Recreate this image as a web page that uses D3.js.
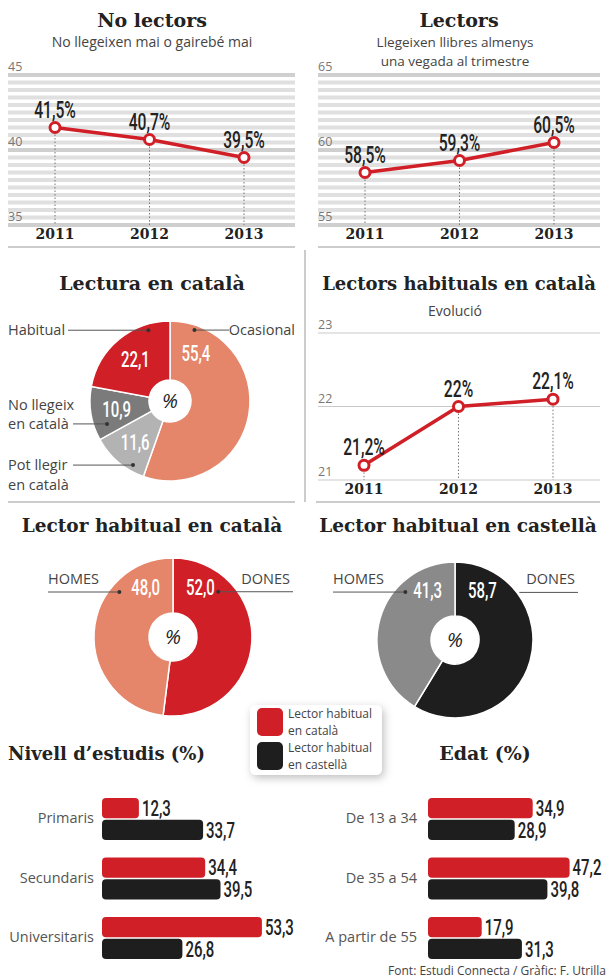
<!DOCTYPE html>
<html>
<head>
<meta charset="utf-8">
<script src="https://cdn.jsdelivr.net/npm/d3@7"></script>
<style>
  body { margin: 0; background: #fff; }
  svg { display: block; }
</style>
</head>
<body>
<svg id="chart" width="607" height="978"></svg>
<script>

// ---- data
var years = ['2011', '2012', '2013'];
var noLectors = [41.5, 40.7, 39.5];
var lectors = [58.5, 59.3, 60.5];
var habitualsCat = [21.2, 22.0, 22.1];

var lecturaCat = ['Ocasional', 'Pot llegir', 'No llegeix', 'Habitual'];
var lecturaVal = [55.4, 11.6, 10.9, 22.1];

var generes = ['DONES', 'HOMES'];
var habitualCatGenere = [52.0, 48.0];
var habitualCasGenere = [58.7, 41.3];

var series = ['Lector habitual en català', 'Lector habitual en castellà'];
var estudis = ['Primaris', 'Secundaris', 'Universitaris'];
var estudisCat = [12.3, 34.4, 53.3];
var estudisCas = [33.7, 39.5, 26.8];
var edats = ['De 13 a 34', 'De 35 a 54', 'A partir de 55'];
var edatCat = [34.9, 47.2, 17.9];
var edatCas = [28.9, 39.8, 31.3];

var RED = '#d01f27', SALMON = '#e5866a', BLACK = '#1e1e1e';
var SERIF = '"DejaVu Serif", serif', SANS = '"Open Sans", sans-serif', COND = 'Roboto, sans-serif';

var svg = d3.select('#chart');

var defs = svg.append('defs');
var sh = defs.append('filter').attr('id', 'shadow')
  .attr('x', '-20%').attr('y', '-20%').attr('width', '150%').attr('height', '160%');
sh.append('feDropShadow').attr('dx', 2).attr('dy', 3).attr('stdDeviation', 4)
  .attr('flood-color', '#000').attr('flood-opacity', 0.25);

function fmtPct(v) { return String(Math.round(v * 10) / 10).replace('.', ',') + '%'; }
function fmt1(v) { return v.toFixed(1).replace('.', ','); }

// condensed figures: a regular face squeezed horizontally
function condText(g, x, y, txt, anchor, size, fill) {
  return g.append('text')
    .attr('transform', 'translate(' + x + ',' + y + ') scale(0.68,1)')
    .attr('text-anchor', anchor)
    .attr('dy', '0.35em')
    .style('font-family', COND).style('font-weight', 500)
    .style('font-size', size + 'px').style('fill', fill)
    .text(txt);
}

function title(x, y, txt, anchor, size) {
  svg.append('text').attr('x', x).attr('y', y).attr('text-anchor', anchor || 'middle')
    .style('font-family', SERIF).style('font-weight', 'bold')
    .style('font-size', (size || 19) + 'px').style('fill', '#222')
    .text(txt);
}

function subtitle(x, y, txt, size) {
  svg.append('text').attr('x', x).attr('y', y).attr('text-anchor', 'middle')
    .style('font-family', SANS).style('font-size', (size || 14) + 'px').style('fill', '#444')
    .text(txt);
}

// ================================================== line charts
function lineChart(o) {
  var g = svg.append('g');
  var x = d3.scalePoint().domain(years).range(o.xr);
  var y = d3.scaleLinear().domain(o.domain).range(o.yr);

  if (o.striped) {
    g.selectAll('.stripe').data(d3.range(o.domain[0], o.domain[1] + 0.01, 0.5)).enter()
      .append('line')
      .attr('x1', o.gx[0]).attr('x2', o.gx[1])
      .attr('y1', function (d) { return y(d); }).attr('y2', function (d) { return y(d); })
      .attr('stroke', function (d) { return d % 5 === 0 ? '#cfcfcf' : '#e0e0e0'; })
      .attr('stroke-width', 3.8);
  } else {
    g.selectAll('.grid').data(o.ticks).enter().append('line')
      .attr('x1', o.gx[0]).attr('x2', o.gx[1])
      .attr('y1', function (d) { return y(d); }).attr('y2', function (d) { return y(d); })
      .attr('stroke', '#c9c9c9').attr('stroke-width', 1);
  }

  g.selectAll('.tick').data(o.ticks).enter().append('text')
    .attr('x', o.gx[0]).attr('y', function (d) { return y(d) - 4; })
    .style('font-family', SANS).style('font-size', '12.5px').style('fill', '#777')
    .text(function (d) { return d; });

  var pts = years.map(function (yr, i) { return { yr: yr, v: o.values[i] }; });

  g.selectAll('.drop').data(pts).enter().append('line')
    .attr('x1', function (d) { return x(d.yr); }).attr('x2', function (d) { return x(d.yr); })
    .attr('y1', function (d) { return y(d.v); }).attr('y2', y(o.domain[0]))
    .attr('stroke', '#777').attr('stroke-width', 1).attr('stroke-dasharray', '1.5,2');

  g.append('path').datum(pts)
    .attr('d', d3.line().x(function (d) { return x(d.yr); }).y(function (d) { return y(d.v); }))
    .attr('fill', 'none').attr('stroke', RED).attr('stroke-width', 3.5);

  g.selectAll('.pt').data(pts).enter().append('circle')
    .attr('cx', function (d) { return x(d.yr); }).attr('cy', function (d) { return y(d.v); })
    .attr('r', 5).attr('fill', '#fff').attr('stroke', RED).attr('stroke-width', 3);

  pts.forEach(function (d) {
    condText(g, x(d.yr), y(d.v) - 18, fmtPct(d.v), 'middle', 23, '#222');
  });

  g.selectAll('.yr').data(years).enter().append('text')
    .attr('x', function (d) { return x(d); }).attr('y', o.yearY)
    .attr('text-anchor', 'middle')
    .style('font-family', SERIF).style('font-weight', 'bold').style('font-size', '14px').style('fill', '#222')
    .text(function (d) { return d; });
}

title(152, 27, 'No lectors');
subtitle(152, 47, 'No llegeixen mai o gairebé mai');
lineChart({ xr: [55, 244], gx: [8, 295], domain: [35, 45], yr: [225, 75], ticks: [35, 40, 45],
  values: noLectors, striped: true, yearY: 239 });

title(459, 27, 'Lectors');
subtitle(455, 47, 'Llegeixen llibres almenys', 13.5);
subtitle(455, 66, 'una vegada al trimestre', 13.5);
lineChart({ xr: [365, 554], gx: [318, 600], domain: [55, 65], yr: [225, 75], ticks: [55, 60, 65],
  values: lectors, striped: true, yearY: 239 });

title(459, 290, 'Lectors habituals en català', 'middle', 18);
subtitle(455, 316, 'Evolució');
lineChart({ xr: [364, 553], gx: [318, 600], domain: [21, 23], yr: [480, 333], ticks: [21, 22, 23],
  values: habitualsCat, striped: false, yearY: 494 });

// separators
svg.append('line').attr('x1', 8).attr('x2', 295).attr('y1', 247).attr('y2', 247).attr('stroke', '#999');
svg.append('line').attr('x1', 318).attr('x2', 600).attr('y1', 247).attr('y2', 247).attr('stroke', '#999');
svg.append('line').attr('x1', 305).attr('x2', 305).attr('y1', 250).attr('y2', 502).attr('stroke', '#999');
svg.append('line').attr('x1', 8).attr('x2', 295).attr('y1', 502).attr('y2', 502).attr('stroke', '#999');
svg.append('line').attr('x1', 316).attr('x2', 600).attr('y1', 502).attr('y2', 502).attr('stroke', '#999');

// ================================================== donuts
function polar(a, r) { return [Math.sin(a) * r, -Math.cos(a) * r]; }

function donut(o) {
  var g = svg.append('g').attr('transform', 'translate(' + o.cx + ',' + o.cy + ')');
  var data = o.names.map(function (n, i) { return { name: n, v: o.values[i], color: o.colors[i] }; });
  var arcs = d3.pie().sort(null).value(function (d) { return d.v; })(data);
  var arc = d3.arc().innerRadius(o.r0).outerRadius(o.r1);

  g.selectAll('path').data(arcs).enter().append('path')
    .attr('d', arc).attr('fill', function (d) { return d.data.color; })
    .attr('stroke', '#fff').attr('stroke-width', 1.5);

  g.append('text').attr('text-anchor', 'middle').attr('dy', '0.35em')
    .style('font-family', SANS).style('font-style', 'italic').style('font-size', '20px').style('fill', '#222')
    .text('%');

  arcs.forEach(function (d) {
    var span = d.endAngle - d.startAngle, a;
    if (span > Math.PI / 2) {
      a = d.startAngle === 0 ? d.startAngle + 0.5 : d.endAngle - 0.5;
    } else {
      a = (d.startAngle + d.endAngle) / 2;
    }
    var p = polar(a, o.labelR);
    condText(g, p[0], p[1], fmt1(d.data.v), 'middle', 22, '#fff');
  });
  return arcs;
}

function callout(cx, cy, angle, r, lineX, labelX, labelYs, anchor, lines, dot) {
  var p = polar(angle, r);
  var dx = cx + p[0], dy = cy + p[1];
  svg.append('line').attr('x1', lineX).attr('x2', dx).attr('y1', dy).attr('y2', dy)
    .attr('stroke', '#555').attr('stroke-width', 1);
  if (dot !== false) svg.append('circle').attr('cx', dx).attr('cy', dy).attr('r', 2).attr('fill', '#333');
  lines.forEach(function (t, i) {
    svg.append('text').attr('x', labelX).attr('y', labelYs[i]).attr('text-anchor', anchor)
      .style('font-family', SANS).style('font-size', '14.5px').style('fill', '#444').text(t);
  });
}

title(152, 290, 'Lectura en català', 'middle', 19);
donut({ cx: 170, cy: 401, r0: 21, r1: 80, labelR: 54,
  names: lecturaCat, values: lecturaVal, colors: [SALMON, '#b3b3b3', '#7b7b7b', RED] });

var DEG = Math.PI / 180;
callout(170, 401, 343 * DEG, 74, 68, 8, [335], 'start', ['Habitual']);
callout(170, 401, 19 * DEG, 75, 229, 295, [335], 'end', ['Ocasional']);
callout(170, 401, 250 * DEG, 67, 73, 8, [410, 429], 'start', ['No llegeix', 'en català']);
callout(170, 401, 210 * DEG, 74, 73, 8, [470, 490], 'start', ['Pot llegir', 'en català']);

title(152, 532, 'Lector habitual en català', 'middle', 18.5);
donut({ cx: 173, cy: 637, r0: 24, r1: 79, labelR: 57,
  names: generes, values: habitualCatGenere, colors: [RED, SALMON] });
callout(173, 637, 310 * DEG, 70, 48, 48, [584], 'start', ['HOMES']);
callout(173, 637, 45 * DEG, 64, 293, 290, [584], 'end', ['DONES']);

title(458, 532, 'Lector habitual en castellà', 'middle', 18.5);
donut({ cx: 455, cy: 640, r0: 24, r1: 78, labelR: 57,
  names: generes, values: habitualCasGenere, colors: [BLACK, '#8a8a8a'] });
callout(455, 640, 314 * DEG, 69, 333, 333, [584], 'start', ['HOMES']);
callout(455, 640, 53.5 * DEG, 80, 578, 575, [584], 'end', ['DONES'], false);

// ================================================== legend
var lg = svg.append('g').attr('transform', 'translate(250,705)');
lg.append('rect').attr('width', 132).attr('height', 70).attr('rx', 6)
  .attr('fill', '#fff').attr('filter', 'url(#shadow)');
[RED, BLACK].forEach(function (c, i) {
  lg.append('rect').attr('x', 7).attr('y', 3 + i * 34).attr('width', 26).attr('height', 28)
    .attr('rx', 5).attr('fill', c);
  var words = series[i].split(' ');
  lg.append('text').attr('x', 38).attr('y', 13 + i * 34)
    .style('font-family', SANS).style('font-size', '12px').style('fill', '#444')
    .text(words.slice(0, 2).join(' '));
  lg.append('text').attr('x', 38).attr('y', 30 + i * 34)
    .style('font-family', SANS).style('font-size', '12px').style('fill', '#444')
    .text(words.slice(2).join(' '));
});

// ================================================== bars
function barChart(o) {
  var g = svg.append('g');
  var x = d3.scaleLinear().domain([0, 60]).range([o.x0, o.x0 + 180]);
  var yb = d3.scaleBand().domain(o.cats).range([798, 959]).paddingInner(0.294).paddingOuter(0);
  var ys = d3.scaleBand().domain([0, 1]).range([0, yb.bandwidth()]).paddingInner(0.06);

  o.cats.forEach(function (c, i) {
    var vals = [o.cat[i], o.cas[i]];
    vals.forEach(function (v, s) {
      var top = yb(c) + ys(s);
      g.append('rect')
        .attr('x', x(0)).attr('y', top)
        .attr('width', x(v) - x(0)).attr('height', ys.bandwidth())
        .attr('rx', 4).attr('fill', s === 0 ? RED : BLACK);
      condText(g, x(v) + 3, top + ys.bandwidth() / 2, fmt1(v), 'start', 22, '#222');
    });
    g.append('text').attr('x', o.labelX).attr('y', yb(c) + yb.bandwidth() / 2)
      .attr('dy', '0.3em').attr('text-anchor', 'end')
      .style('font-family', SANS).style('font-size', '14.5px').style('fill', '#555')
      .text(c);
  });
}

title(8, 760, 'Nivell d\u2019estudis (%)', 'start', 18);
barChart({ x0: 102, labelX: 94, cats: estudis, cat: estudisCat, cas: estudisCas });

title(485, 760, 'Edat (%)', 'middle', 19);
barChart({ x0: 428, labelX: 417, cats: edats, cat: edatCat, cas: edatCas });

svg.append('text').attr('x', 606).attr('y', 975).attr('text-anchor', 'end')
  .style('font-family', SANS).style('font-size', '12px').style('fill', '#444')
  .text('Font: Estudi Connecta / Gràfic: F. Utrilla');

</script>
</body>
</html>
